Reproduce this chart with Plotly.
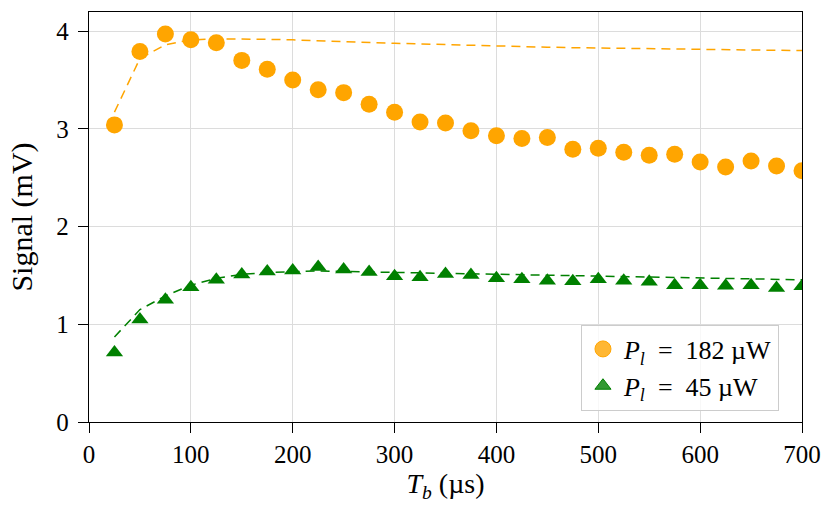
import plotly.graph_objects as go

# ---- data ----
tb = [25, 50, 75, 100, 125, 150, 175, 200, 225, 250, 275, 300, 325, 350,
      375, 400, 425, 450, 475, 500, 525, 550, 575, 600, 625, 650, 675, 700]

signal_182 = [3.04, 3.79, 3.97, 3.91, 3.88, 3.70, 3.61, 3.50, 3.40, 3.37,
              3.25, 3.17, 3.07, 3.06, 2.98, 2.93, 2.90, 2.91, 2.79, 2.80,
              2.76, 2.73, 2.74, 2.66, 2.61, 2.67, 2.62, 2.57]
fit_182 = [3.17, 3.72, 3.86, 3.91, 3.92, 3.92, 3.915, 3.91, 3.90, 3.89,
           3.88, 3.875, 3.868, 3.86, 3.853, 3.846, 3.84, 3.835, 3.83, 3.826,
           3.822, 3.818, 3.814, 3.81, 3.808, 3.805, 3.803, 3.80]

signal_45 = [0.71, 1.05, 1.25, 1.38, 1.456, 1.51, 1.54, 1.55, 1.586, 1.56,
             1.535, 1.49, 1.48, 1.514, 1.504, 1.47, 1.46, 1.446, 1.44, 1.46,
             1.446, 1.435, 1.40, 1.40, 1.395, 1.40, 1.37, 1.39]
fit_45 = [0.87, 1.15, 1.29, 1.40, 1.47, 1.51, 1.53, 1.54, 1.545, 1.54,
          1.535, 1.53, 1.525, 1.52, 1.515, 1.51, 1.505, 1.50, 1.495, 1.49,
          1.485, 1.48, 1.476, 1.472, 1.468, 1.464, 1.46, 1.455]

x_ticks = [0, 100, 200, 300, 400, 500, 600, 700]
y_ticks = [0, 1, 2, 3, 4]

label_182 = "<i>P</i><sub><i>l</i></sub>\u2002=\u2002182 µW"
label_45 = "<i>P</i><sub><i>l</i></sub>\u2002=\u200245 µW"

ORANGE = "#FFA500"
GREEN = "#008000"
FONT = "Liberation Serif"

fig = go.Figure()

# markers
fig.add_trace(go.Scatter(x=tb, y=signal_182, mode="markers", showlegend=False,
                         marker=dict(symbol="circle", size=17, color=ORANGE,
                                     line=dict(width=0))))
fig.add_trace(go.Scatter(x=tb, y=signal_45, mode="markers", showlegend=False,
                         marker=dict(symbol="triangle-up", size=15, color=GREEN,
                                     line=dict(width=0))))
# fit lines
fig.add_trace(go.Scatter(x=tb, y=fit_182, mode="lines", showlegend=False,
                         line=dict(color=ORANGE, width=1.5, dash="9px,6px")))
fig.add_trace(go.Scatter(x=tb, y=fit_45, mode="lines", showlegend=False,
                         line=dict(color=GREEN, width=1.5, dash="9px,6px")))

# legend entries
fig.add_trace(go.Scatter(x=[None], y=[None], mode="markers", name=label_182,
                         marker=dict(symbol="circle", size=16, color="rgba(255,165,0,0.8)",
                                     line=dict(width=1, color=ORANGE))))
fig.add_trace(go.Scatter(x=[None], y=[None], mode="markers", name=label_45,
                         marker=dict(symbol="triangle-up", size=14, color="rgba(0,128,0,0.8)",
                                     line=dict(width=1, color=GREEN))))

axis_common = dict(
    showline=True, linecolor="black", linewidth=1.3, mirror=True,
    ticks="outside", ticklen=10, tickwidth=1.2, tickcolor="black",
    showgrid=True, gridcolor="#dcdcdc", gridwidth=1.2,
    zeroline=False,
    tickfont=dict(family=FONT, size=25, color="black"),
)

fig.update_xaxes(range=[0, 700], tickvals=x_ticks,
                 title=dict(text="<i>T</i><sub><i>b</i></sub> (µs)",
                            font=dict(family=FONT, size=28, color="black"),
                            standoff=4),
                 **axis_common)
fig.update_yaxes(range=[0, 4.195], tickvals=y_ticks, ticklabelstandoff=4,
                 title=dict(text="Signal (mV)",
                            font=dict(family=FONT, size=30, color="black"),
                            standoff=14),
                 **axis_common)

fig.update_layout(
    width=822, height=505,
    margin=dict(l=89, r=20, t=12, b=83, autoexpand=False),
    plot_bgcolor="white", paper_bgcolor="white",
    font=dict(family=FONT, size=25, color="black"),
    legend=dict(x=0.9677, y=0.028, xanchor="right", yanchor="bottom",
                bgcolor="rgba(255,255,255,0.8)", bordercolor="#cccccc", borderwidth=1,
                font=dict(family=FONT, size=26, color="black"),
                itemwidth=32, tracegroupgap=0),
)

# remove the default 8px page margin so the figure sits at the window's corner
fig.write_html("out.html", config={"displayModeBar": False},
               post_script="document.body.style.margin='0';")
